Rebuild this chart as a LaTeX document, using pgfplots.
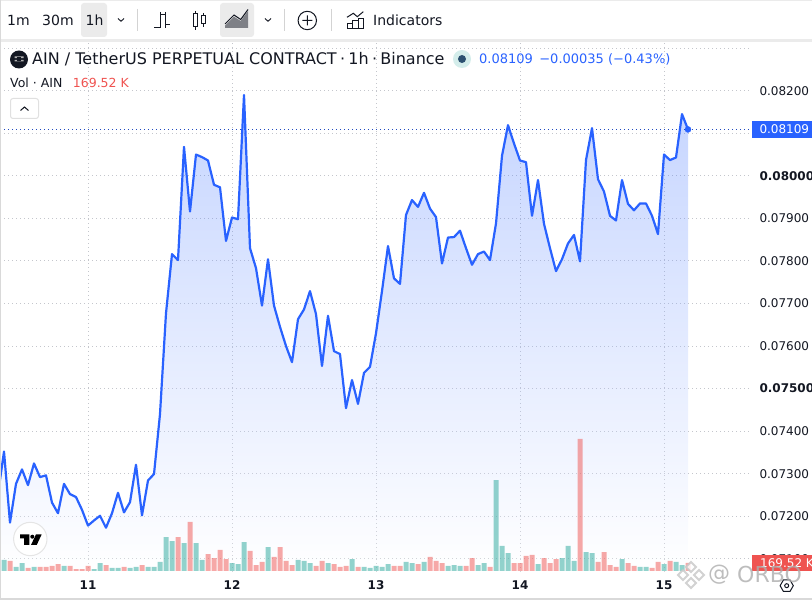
\documentclass[border=0pt]{standalone}
\usepackage{fontspec}
\usepackage{pgfplots}
\usepackage{pgfplotstable}
\pgfplotsset{compat=1.18}
\setmainfont{DejaVu Sans}
\definecolor{tvblue}{HTML}{2962FF}
\definecolor{tvink}{HTML}{131722}
\definecolor{tvred}{HTML}{EF5350}
\definecolor{tvteal}{HTML}{26A69A}
\definecolor{tvgrid}{HTML}{C4C6CC}
\definecolor{tvbar}{HTML}{EBEBEB}
\definecolor{tvdot}{HTML}{2C5070}
\newcommand{\fs}[1]{\fontsize{#1}{#1}\selectfont}
\pgfplotstableread{
h p
-15 0.07252
-14 0.07352
-13 0.07185
-12 0.07276
-11 0.07310
-10 0.07273
-9 0.07324
-8 0.07292
-7 0.07296
-6 0.07232
-5 0.07207
-4 0.07276
-3 0.07252
-2 0.07245
-1 0.07215
0 0.07178
1 0.07190
2 0.07201
3 0.07173
4 0.07207
5 0.07255
6 0.07209
7 0.07233
8 0.07321
9 0.07202
10 0.07284
11 0.07299
12 0.07440
13 0.07677
14 0.07816
15 0.07802
16 0.08068
17 0.07916
18 0.08050
19 0.08044
20 0.08036
21 0.07979
22 0.07973
23 0.07847
24 0.07902
25 0.07898
26 0.08190
27 0.07830
28 0.07783
29 0.07695
30 0.07804
31 0.07695
32 0.07645
33 0.07600
34 0.07562
35 0.07663
36 0.07686
37 0.07729
38 0.07675
39 0.07553
40 0.07671
41 0.07588
42 0.07581
43 0.07454
44 0.07520
45 0.07464
46 0.07537
47 0.07551
48 0.07630
49 0.07729
50 0.07835
51 0.07759
52 0.07746
53 0.07908
54 0.07943
55 0.07927
56 0.07960
57 0.07923
58 0.07903
59 0.07794
60 0.07855
61 0.07856
62 0.07871
63 0.07830
64 0.07791
65 0.07816
66 0.07822
67 0.07802
68 0.07888
69 0.08047
70 0.08119
71 0.08076
72 0.08036
73 0.08032
74 0.07906
75 0.07990
76 0.07887
77 0.07830
78 0.07776
79 0.07804
80 0.07841
81 0.07861
82 0.07799
83 0.08037
84 0.08112
85 0.07992
86 0.07963
87 0.07906
88 0.07895
89 0.07990
90 0.07934
91 0.07919
92 0.07935
93 0.07935
94 0.07906
95 0.07863
96 0.08050
97 0.08037
98 0.08043
99 0.08145
100 0.08109
}\pricetable
\pgfplotstableread{
h v
-14 233
-12 85
-11 169
-9 85
-4 106
1 42
2 169
4 64
5 64
7 64
8 85
10 85
11 85
12 191
13 720
14 635
16 593
18 593
19 233
24 169
25 148
26 614
30 508
35 233
36 212
37 169
40 169
44 254
46 85
47 64
48 106
49 85
50 148
53 191
54 169
56 191
60 106
61 127
62 106
65 127
66 169
68 1927
69 530
70 381
75 148
79 275
80 530
81 212
83 402
84 381
89 254
92 85
93 85
96 148
98 191
99 127
}\volup
\pgfplotstableread{
h v
-13 212
-10 64
-8 85
-7 85
-6 106
-5 148
-3 106
-2 42
-1 42
0 106
3 127
6 85
9 127
15 720
17 1038
20 360
21 275
22 445
23 254
27 424
28 127
29 191
31 297
32 508
33 212
34 127
38 106
39 212
41 148
42 85
43 106
45 85
51 106
52 106
55 148
57 297
58 212
59 169
63 106
64 275
67 85
71 169
72 169
73 318
74 339
76 275
77 169
78 254
82 2796
85 191
86 402
87 127
88 85
90 169
91 106
94 64
95 191
97 212
100 169.52
}\voldown
\begin{document}
\begin{tikzpicture}
\useasboundingbox (0,0) rectangle (812pt,600pt);
% price pane
\begin{axis}[at={(0pt,28pt)},anchor=south west,width=752pt,height=530pt,scale only axis,
  xmin=-14.6667,xmax=110.6667,ymin=0.070689,ymax=0.083145,
  axis line style={draw=none},
  scaled y ticks=false,scaled x ticks=false,
  major tick length=0pt,
  grid=major,
  major grid style={draw=tvgrid,line width=1pt,dash pattern=on 1pt off 3pt},
  xtick={0,24,48,72,96},
  xticklabels={\textbf{11},\textbf{12},\textbf{13},\textbf{14},\textbf{15}},
  xticklabel style={anchor=center,yshift=-13pt,font=\fs{12},text=tvink,inner sep=0pt},
  ytick={0.071,0.072,0.073,0.074,0.075,0.076,0.077,0.078,0.079,0.080,0.081,0.082,0.083},
  yticklabels={0.07100,0.07200,0.07300,0.07400,\textbf{0.07500},0.07600,0.07700,0.07800,0.07900,\textbf{0.08000},0.08100,0.08200,},
  yticklabel pos=right,
  yticklabel style={anchor=west,xshift=7.3pt,font=\fs{12},text=tvink,inner sep=0pt},
  clip=true]
\addplot[draw=none,top color=tvblue,bottom color=white,fill opacity=.27,forget plot]
  table[x=h,y=p] {\pricetable} -- (axis cs:100,0.070689) -- (axis cs:-15,0.070689) -- cycle;
\addplot[tvblue!75!black,line width=1pt,dash pattern=on 1pt off 3pt,forget plot] coordinates {(-14.6667,0.08109) (110.6667,0.08109)};
\addplot[tvblue,line width=2.2pt,line join=round] table[x=h,y=p] {\pricetable};
\addplot[only marks,mark=*,mark size=3pt,mark options={fill=tvblue,draw=none},tvblue] coordinates {(100,0.08109)};
\end{axis}
% volume pane
\begin{axis}[at={(0pt,28pt)},anchor=south west,width=752pt,height=530pt,scale only axis,
  xmin=-14.6667,xmax=110.6667,ymin=-21.18,ymax=11204,
  hide axis,clip=true]
\addplot[ybar,bar width=5pt,bar shift=0pt,draw=none,fill=tvteal,fill opacity=.5] table[x=h,y=v] {\volup};
\addplot[ybar,bar width=5pt,bar shift=0pt,draw=none,fill=tvred,fill opacity=.5] table[x=h,y=v] {\voldown};
\end{axis}
\begin{scope}[x=1pt,y=-1pt,yshift=600pt]
% chrome frame
\fill[white] (0,0) rectangle (812,39);
\fill[tvbar] (0,39) rectangle (812,42.5);
\fill[tvbar] (0,0) rectangle (812,1);
\fill[white!85!black] (0,598.5) rectangle (812,600);
\fill[white!85!black] (0,0) rectangle (1,600);
% toolbar
\fill[tvbar,rounded corners=3pt] (81,3) rectangle (107,37);
\fill[tvbar,rounded corners=3pt] (220,3) rectangle (254,37);
\foreach \x in {137.5,284.5,331.5} \draw[tvbar!90!black,line width=1pt] (\x,9) -- (\x,31);
\node[anchor=west,inner sep=0pt,text=tvink,font=\fs{14}] at (7,20) {1m};
\node[anchor=west,inner sep=0pt,text=tvink,font=\fs{14}] at (42,20) {30m};
\node[anchor=west,inner sep=0pt,text=tvink,font=\fs{14}] at (85.5,20) {1h};
\node[anchor=west,inner sep=0pt,text=tvink,font=\fs{14}] at (373,20) {Indicators};
\draw[tvink,line width=.9pt] (118,18.5) -- (121,21.3) -- (124,18.5);
\draw[tvink,line width=.9pt] (265,18.5) -- (268,21.3) -- (271,18.5);
% bar icon
\draw[tvink,line width=1pt] (160,12) -- (160,28) (154,27.5) -- (160,27.5) (160,14.5) -- (165.5,14.5) (165.5,12) -- (165.5,28) (165.5,25) -- (169.5,25);
% candle icon
\draw[tvink,line width=1pt] (193.5,14) rectangle (197.5,26.5) (195.5,11) -- (195.5,14) (195.5,26.5) -- (195.5,30) (201.5,16) rectangle (205.5,24) (203.5,13) -- (203.5,16) (203.5,24) -- (203.5,27);
% area icon
\fill[tvink,opacity=.5] (225,25.7) -- (234,16.7) -- (240.7,21) -- (248,11) -- (248,28) -- (225,28) -- cycle;
\draw[tvink,line width=1pt] (225,24) -- (234,15) -- (240.7,19.5) -- (248,9.5);
% plus icon
\draw[tvink,line width=1pt] (307.3,20.5) circle (9.2) (307.3,15.5) -- (307.3,25.5) (302.3,20.5) -- (312.3,20.5);
% indicators icon
\draw[tvink,line width=1pt] (347,17.3) -- (353.3,13.3) -- (357.3,16.7) -- (363.3,11.7);
\draw[tvink,line width=1pt] (347.5,24) rectangle (352.7,28.3) (352.7,20.7) rectangle (358,28.3) (358,18.3) rectangle (363.5,28.3);
% legend line
\fill[tvink] (19,59.5) circle (9);
\fill[white!70!black] (14.5,56.5) rectangle (23.5,58.2) (14.5,59.8) rectangle (23.5,61.5);
\fill[tvink] (17,57.5) rectangle (21,60.6);
\node[anchor=west,inner sep=0pt,text=tvink,font=\fs{16}] at (32,59.5) {AIN / TetherUS PERPETUAL CONTRACT\hspace{3.3pt}·\hspace{3.3pt}1h\hspace{3.3pt}·\hspace{3.3pt}Binance};
\fill[tvteal!20!white] (462,59) circle (9);
\fill[tvdot] (462,59) circle (4);
\node[anchor=west,inner sep=0pt,text=tvblue,font=\fs{13}] at (479,59.5) {0.08109\hspace{6.4pt}−0.00035 (−0.43\%)};
\node[anchor=west,inner sep=0pt,text=tvink,font=\fs{12.5}] at (10,83) {Vol · AIN};
\node[anchor=west,inner sep=0pt,text=tvred,font=\fs{12.5}] at (72.7,83) {169.52 K};
% collapse button
\draw[white!88!black,fill=white,rounded corners=2.5pt,line width=1pt] (10.5,98.5) rectangle (38.5,118.5);
\draw[tvink,line width=1pt] (20.5,110.5) -- (24.5,107) -- (28.5,110.5);
% price tags
\fill[tvblue] (752,121) rectangle (812,137.7);
\node[anchor=west,inner sep=0pt,text=white,font=\fs{12}] at (759.3,129.4) {0.08109};
\fill[tvred] (752,555) rectangle (812,571);
\node[anchor=west,inner sep=0pt,text=white,font=\fs{12}] at (760,563) {169.52 K};
% logo
\draw[white!90!black,fill=white,line width=1pt] (30.3,539) circle (16.7);
\fill[black] (20,534.3) -- (29.3,534.3) -- (29.3,545) -- (24,545) -- (24,538.3) -- (20,538.3) -- cycle;
\fill[black] (32.3,536.7) circle (2);
\fill[black] (41.7,534.3) -- (36.7,545) -- (31,545) -- (36,534.3) -- cycle;
% settings icon
\draw[tvink,line width=1pt] (786.7,585.7) +(0:6.6) -- +(60:6.6) -- +(120:6.6) -- +(180:6.6) -- +(240:6.6) -- +(300:6.6) -- cycle;
\draw[tvink,line width=1pt] (786.7,585.7) circle (2);
% watermark
\begin{scope}[opacity=.8]
\foreach \cx/\cy in {691/567,683/575,699/575,691/583}
  \draw[white!78!black,fill=white,line width=1.8pt] (\cx-5,\cy) -- (\cx,\cy-5) -- (\cx+5,\cy) -- (\cx,\cy+5) -- cycle;
\node[anchor=west,inner sep=0pt,text=white!68!black,font=\fs{22}] at (708,574.5) {@};
\node[anchor=west,inner sep=0pt,text=white!68!black,font=\fs{22}] at (737,574.5) {ORBO};
\end{scope}
\end{scope}
\end{tikzpicture}
\end{document}
